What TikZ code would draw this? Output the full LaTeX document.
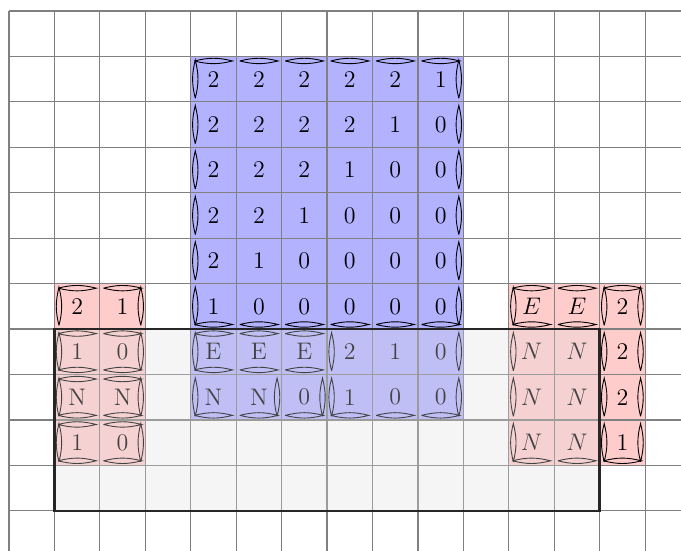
\documentclass[tikz,border=0pt]{standalone}
\begin{document}
\begin{tikzpicture}[x=0.8cm, y=0.8cm,
  num/.style={inner sep=0pt, font=\large},
  cb/.style={fill=blue!30},
  cr/.style={fill=red!20},
  wl/.style={line width=0.45pt},
  % one lens on each cell side that lies on a wall
  wT/.pic={\draw[wl] (0.08,0.9) to[bend left=14] (0.92,0.9) to[bend left=14] (0.08,0.9);},
  wB/.pic={\draw[wl] (0.08,0.1) to[bend left=14] (0.92,0.1) to[bend left=14] (0.08,0.1);},
  wL/.pic={\draw[wl] (0.1,0.08) to[bend left=14] (0.1,0.92) to[bend left=14] (0.1,0.08);},
  wR/.pic={\draw[wl] (0.9,0.08) to[bend left=14] (0.9,0.92) to[bend left=14] (0.9,0.08);}]

\useasboundingbox (-0.198,0.242) rectangle (14.79,-11.88);
\clip (-0.198,0.242) rectangle (14.79,-11.88);

% ---- coloured blocks ----
\fill[cb] (4,-9) rectangle (10,-1);
\fill[cr] (1,-10) rectangle (3,-6);
\fill[cr] (11,-10) rectangle (14,-6);

\draw[gray, line width=0.6pt, step=1] (0,-12) grid (15,0);

% ---- blue block ----
\foreach \r/\vals in {1/{2,2,2,2,2,1},2/{2,2,2,2,1,0},3/{2,2,2,1,0,0},4/{2,2,1,0,0,0},
    5/{2,1,0,0,0,0},6/{1,0,0,0,0,0},7/{E,E,E,2,1,0},8/{N,N,0,1,0,0}}
  \foreach \v [count=\c from 4] in \vals
    \node[num] (b\r-\c) at (\c+0.5,-\r-0.5) {\v};

% ---- red blocks ----
\foreach \r/\vals in {6/{2,1},7/{1,0},8/{N,N},9/{1,0}}
  \foreach \v [count=\c from 1] in \vals
    \node[num] (l\r-\c) at (\c+0.5,-\r-0.5) {\v};
\foreach \r/\vals in {6/{$E$,$E$,2},7/{$N$,$N$,2},8/{$N$,$N$,2},9/{$N$,$N$,1}}
  \foreach \v [count=\c from 11] in \vals
    \node[num] (r\r-\c) at (\c+0.5,-\r-0.5) {\v};

% ---- walls (column/row) ----
\foreach \c/\r in {4/1,5/1,6/1,7/1,8/1,9/1, 4/7,5/7,6/7,
    1/6,2/6,1/7,2/7,1/8,2/8,1/9,2/9, 11/6,12/6,13/6}
  \pic at (\c,-\r-1) {wT};
\foreach \c/\r in {4/6,5/6,6/6,7/6,8/6,9/6, 4/7,5/7,6/7, 4/8,5/8,6/8,7/8,8/8,9/8,
    1/7,2/7,1/8,2/8,1/9,2/9, 11/6,12/6, 11/9,12/9,13/9}
  \pic at (\c,-\r-1) {wB};
\foreach \c/\r in {4/1,4/2,4/3,4/4,4/5,4/6,4/7,4/8, 7/7,7/8,
    1/6,1/7,1/8,1/9, 11/6,11/7,11/8,11/9, 13/6,13/7,13/8,13/9}
  \pic at (\c,-\r-1) {wL};
\foreach \c/\r in {9/1,9/2,9/3,9/4,9/5,9/6,9/7,9/8, 5/8,6/8,
    2/6,2/7,2/8,2/9, 13/6,13/7,13/8,13/9}
  \pic at (\c,-\r-1) {wR};

% ---- shaded frame on top ----
\draw[black!85, line width=1.2pt, fill=gray!25, fill opacity=0.3] (1,-7) rectangle (13,-11);
\end{tikzpicture}
\end{document}
